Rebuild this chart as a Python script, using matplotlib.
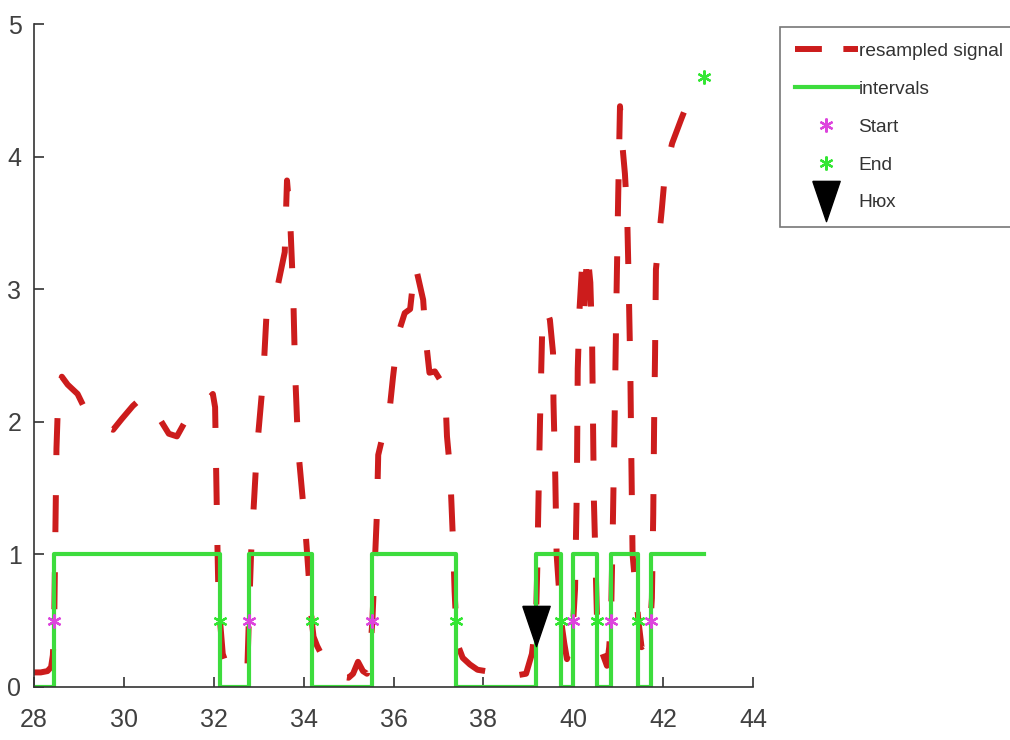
import matplotlib
import matplotlib.pyplot as plt
import numpy as np
from matplotlib.lines import Line2D

matplotlib.use("Agg")

plt.rcParams['font.family'] = ['Liberation Sans', 'DejaVu Sans']

# resampled signal
sig_x = [28.00, 28.15, 28.30, 28.38, 28.42, 28.45, 28.47, 28.50, 28.54, 28.62,
         28.75, 28.97, 29.20, 29.43, 29.76, 29.95, 30.20, 30.43, 30.60, 30.80,
         31.00, 31.18, 31.36, 31.55, 31.85, 31.98, 32.03, 32.05, 32.08, 32.11,
         32.14, 32.20, 32.32, 32.50, 32.70, 32.75, 32.78, 32.83, 32.96, 33.10,
         33.18, 33.30, 33.42, 33.58, 33.63, 33.70, 33.77, 33.81, 33.88, 34.03,
         34.10, 34.18, 34.22, 34.30, 34.54, 34.80, 35.00, 35.10, 35.21, 35.32,
         35.41, 35.48, 35.53, 35.58, 35.63, 35.66, 35.80, 35.91, 35.99, 36.10,
         36.25, 36.37, 36.48, 36.66, 36.72, 36.80, 36.92, 37.05, 37.15, 37.19,
         37.26, 37.30, 37.33, 37.36, 37.39, 37.45, 37.54, 37.70, 37.87, 38.05,
         38.30, 38.50, 38.78, 38.95, 39.08, 39.17, 39.20, 39.22, 39.26, 39.32,
         39.40, 39.48, 39.55, 39.56, 39.60, 39.63, 39.73, 39.80, 39.86, 39.95,
         40.00, 40.04, 40.08, 40.10, 40.14, 40.19, 40.25, 40.31, 40.38, 40.42,
         40.44, 40.46, 40.50, 40.53, 40.60, 40.75, 40.80, 40.84, 40.88, 40.92,
         40.96, 41.00, 41.04, 41.09, 41.15, 41.20, 41.23, 41.27, 41.29, 41.32,
         41.45, 41.52, 41.62, 41.72, 41.75, 41.78, 41.80, 41.82, 41.84, 41.97,
         42.04, 42.20, 42.40, 42.55, 42.90]
sig_y = [0.11, 0.11, 0.12, 0.15, 0.24, 0.50, 1.00, 1.80, 2.20, 2.34,
         2.28, 2.21, 2.05, 1.98, 1.94, 2.02, 2.12, 2.19, 2.10, 2.02,
         1.91, 1.89, 2.00, 2.10, 2.16, 2.21, 2.11, 1.70, 1.10, 0.60,
         0.50, 0.25, 0.13, 0.11, 0.10, 0.16, 0.50, 1.00, 1.79, 2.33,
         2.85, 3.00, 3.02, 3.28, 3.82, 3.53, 2.95, 2.38, 1.79, 1.23,
         0.90, 0.50, 0.38, 0.31, 0.15, 0.08, 0.07, 0.10, 0.19, 0.12,
         0.10, 0.25, 0.50, 0.90, 1.30, 1.75, 1.95, 2.08, 2.34, 2.66,
         2.82, 2.85, 3.19, 2.92, 2.62, 2.37, 2.38, 2.31, 2.23, 1.89,
         1.63, 1.30, 1.05, 0.72, 0.50, 0.30, 0.22, 0.17, 0.13, 0.12,
         0.18, 0.14, 0.09, 0.10, 0.25, 0.50, 0.90, 1.30, 2.00, 2.85,
         2.85, 2.77, 2.52, 2.15, 1.58, 1.00, 0.50, 0.33, 0.21, 0.35,
         0.50, 0.74, 1.50, 2.40, 2.85, 3.14, 2.86, 3.30, 3.05, 2.60,
         2.00, 1.40, 0.90, 0.50, 0.30, 0.16, 0.30, 0.50, 1.20, 2.00,
         2.90, 3.70, 4.38, 4.10, 3.87, 3.56, 3.10, 2.40, 1.80, 1.00,
         0.50, 0.30, 0.33, 0.50, 0.67, 1.30, 2.00, 2.50, 3.15, 3.60,
         3.87, 4.10, 4.28, 4.41, 4.60]

# interval edges
starts = [28.45, 32.78, 35.53, 39.17, 40.00, 40.84, 41.72]
ends = [32.14, 34.18, 37.39, 39.73, 40.53, 41.45, 42.90]
start_y = [0.5, 0.5, 0.5, 0.5, 0.5, 0.5, 0.5]
end_y = [0.5, 0.5, 0.5, 0.5, 0.5, 0.5, 4.6]
hkx_x = [39.17]
hkx_y = [0.46]

# step line for the intervals
iv_x = [28.0]
iv_y = [0]
for i, (s, e) in enumerate(zip(starts, ends)):
    iv_x += [s, s, e]
    iv_y += [0, 1, 1]
    if i < len(starts) - 1:
        iv_x += [e]
        iv_y += [0]

RED = '#cc1c1c'
GREEN = '#3ddc3d'
MAG = '#dd44dd'
ast = (6, 2, 0)
tri = [(-0.34, 0.5), (0.34, 0.5), (0, -0.5), (-0.34, 0.5)]

fig = plt.figure(figsize=(10.1, 7.4), dpi=100)
ax = fig.add_axes([34 / 1010, 53 / 740, 719 / 1010, 663 / 740])

ax.plot(sig_x, sig_y, color=RED, lw=4.3, dashes=(6.2, 6.7), dash_capstyle='butt')
ax.plot(iv_x, iv_y, color=GREEN, lw=3.0)
ax.plot(starts, start_y, ls='none', marker=ast, ms=10, mew=1.6, color=MAG)
ax.plot(ends, end_y, ls='none', marker=ast, ms=10, mew=1.6, color='#33e633')
ax.plot(hkx_x, hkx_y, ls='none', marker=tri, ms=29, color='black')

ax.set_xlim(28, 44)
ax.set_ylim(0, 5)
ax.set_xticks(np.arange(28, 45, 2))
ax.set_yticks(np.arange(0, 6, 1))
for side in ['top', 'right']:
    ax.spines[side].set_visible(False)
for side in ['left', 'bottom']:
    ax.spines[side].set_color('#333333')
    ax.spines[side].set_linewidth(1.2)
ax.tick_params(direction='in', length=7, width=1.2, color='#333333',
               labelsize=18, labelcolor='#404040')
ax.tick_params(axis='x', pad=15)
ax.tick_params(axis='y', pad=9)

handles = [
    Line2D([], [], color=RED, lw=4.3, dashes=(4.5, 3.6), dash_capstyle='butt'),
    Line2D([], [], color=GREEN, lw=3.0),
    Line2D([], [], ls='none', marker=ast, ms=10, mew=1.6, color=MAG),
    Line2D([], [], ls='none', marker=ast, ms=10, mew=1.6, color='#33e633'),
    Line2D([], [], ls='none', marker=tri, ms=29, color='black'),
]
labels = ['resampled signal', 'intervals', 'Start', 'End', 'Нюх']
leg = fig.legend(handles, labels, loc='upper left',
                 bbox_to_anchor=(780 / 1010, 1 - 27 / 740),
                 bbox_transform=fig.transFigure, fontsize=13.8,
                 handlelength=3.25, handletextpad=0.05, labelspacing=1.07,
                 borderpad=0.8, borderaxespad=0, fancybox=False)
leg.get_frame().set_edgecolor('#555555')
leg.get_frame().set_linewidth(1.2)
for t in leg.get_texts():
    t.set_color('#333333')

fig.savefig('out.png', dpi=100)
